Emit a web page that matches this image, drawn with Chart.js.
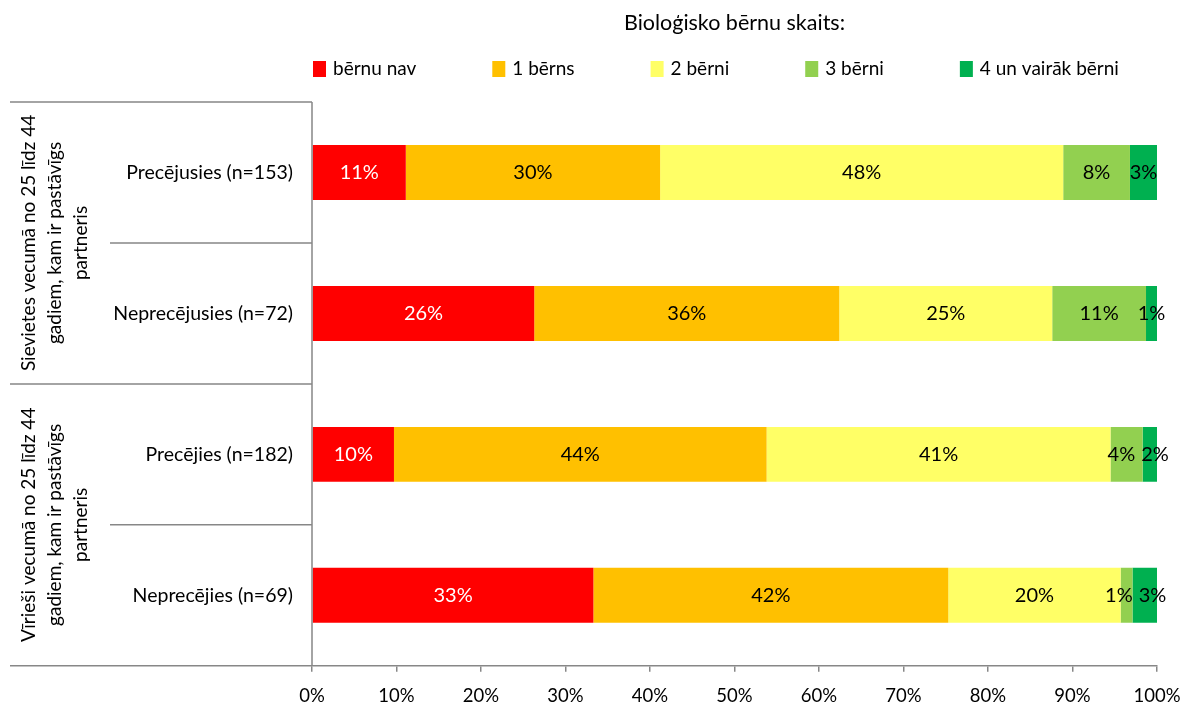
<!DOCTYPE html>
<html>
<head>
<meta charset="utf-8">
<script src="https://cdn.jsdelivr.net/npm/chart.js@4.4.0/dist/chart.umd.min.js"></script>
<style>
  html, body { margin: 0; padding: 0; background: #fff; }
  #wrap { width: 1184px; height: 702px; position: relative; }
</style>
</head>
<body>
<div id="wrap"><canvas id="chart"></canvas></div>
<script>
const chartTitle = 'Bioloģisko bērnu skaits:';
const categories = ['Precējusies (n=153)', 'Neprecējusies (n=72)', 'Precējies (n=182)', 'Neprecējies (n=69)'];
const groupLabels = [
  ['Sievietes vecumā no 25 līdz 44', 'gadiem, kam ir pastāvīgs', 'partneris'],
  ['Vīrieši vecumā no 25 līdz 44', 'gadiem, kam ir pastāvīgs', 'partneris']
];
const seriesNames = ['bērnu nav', '1 bērns', '2 bērni', '3 bērni', '4 un vairāk bērni'];
const seriesColors = ['#FF0000', '#FFC000', '#FFFF66', '#92D050', '#00B050'];
const labelColors = ['#ffffff', '#000000', '#000000', '#000000', '#000000'];

const noChildren    = [11.1, 26.3,  9.7, 33.3];
const oneChild      = [30.1, 36.1, 44.1, 42.0];
const twoChildren   = [47.7, 25.2, 40.7, 20.4];
const threeChildren = [ 7.9, 11.1,  3.8,  1.4];
const fourPlus      = [ 3.2,  1.3,  1.7,  2.9];
const seriesValues = [noChildren, oneChild, twoChildren, threeChildren, fourPlus];

const FONT = 'Lato, "Open Sans", sans-serif';
const LINE = '#878787';

const decor = {
  id: 'decor',
  afterDraw(chart) {
    const ctx = chart.ctx;
    const area = chart.chartArea;
    const y = chart.scales.y;
    const band = (area.bottom - area.top) / categories.length;
    ctx.save();
    ctx.textBaseline = 'middle';

    // title
    ctx.font = '21.5px ' + FONT;
    ctx.fillStyle = '#000';
    ctx.textAlign = 'center';
    ctx.fillText(chartTitle, (area.left + area.right) / 2, area.top - 79);

    // legend
    ctx.font = '19px ' + FONT;
    let lx = area.left + 1;
    const ly = area.top - 33;
    ctx.textAlign = 'left';
    chart.data.datasets.forEach(ds => {
      ctx.fillStyle = ds.backgroundColor;
      ctx.fillRect(lx, ly - 8, 13, 16);
      ctx.fillStyle = '#000';
      ctx.fillText(ds.label, lx + 20, ly);
      lx += 20 + ctx.measureText(ds.label).width + 76;
    });

    // left frame
    ctx.strokeStyle = LINE;
    ctx.lineWidth = 1.5;
    ctx.beginPath();
    ctx.moveTo(area.left, area.top);
    ctx.lineTo(area.left, area.bottom);
    for (let i = 0; i <= categories.length; i++) {
      const yy = area.top + band * i;
      ctx.moveTo(i % 2 === 0 ? 10 : 110, yy);
      ctx.lineTo(area.left, yy);
    }
    ctx.stroke();

    // category labels
    ctx.font = '19.5px ' + FONT;
    ctx.fillStyle = '#000';
    ctx.textAlign = 'right';
    categories.forEach((c, i) => {
      ctx.fillText(c, area.left - 19, y.getPixelForValue(i));
    });

    // group labels (rotated)
    ctx.font = '19px ' + FONT;
    ctx.textAlign = 'center';
    groupLabels.forEach((lines, g) => {
      const cy = area.top + band * (2 * g + 1);
      ctx.save();
      ctx.translate(55, cy);
      ctx.rotate(-Math.PI / 2);
      lines.forEach((t, k) => {
        ctx.fillText(t, 0, (k - 1) * 26);
      });
      ctx.restore();
    });

    // value labels, nudged apart where narrow segments collide
    ctx.font = '20px ' + FONT;
    categories.forEach((c, i) => {
      const items = chart.data.datasets.map((ds, di) => {
        const bar = chart.getDatasetMeta(di).data[i];
        const text = Math.round(ds.data[i]) + '%';
        return { text, x: (bar.x + bar.base) / 2, y: bar.y, w: ctx.measureText(text).width, color: labelColors[di] };
      });
      for (let k = 1; k < items.length; k++) {
        const a = items[k - 1], b = items[k];
        const need = (a.w + b.w) / 2 + 6 - (b.x - a.x);
        if (need > 0) { a.x -= need / 2; b.x += need / 2; }
      }
      items.forEach(it => {
        ctx.fillStyle = it.color;
        ctx.fillText(it.text, it.x, it.y);
      });
    });
    ctx.restore();
  }
};

new Chart(document.getElementById('chart'), {
  type: 'bar',
  data: {
    labels: categories,
    datasets: seriesNames.map((name, i) => ({
      label: name,
      data: seriesValues[i],
      backgroundColor: seriesColors[i],
      borderWidth: 0,
      barPercentage: 0.39,
      categoryPercentage: 1
    }))
  },
  options: {
    indexAxis: 'y',
    responsive: true,
    maintainAspectRatio: false,
    animation: false,
    layout: { padding: { top: 102, left: 312, right: 0, bottom: -18 } },
    plugins: {
      legend: { display: false },
      title: { display: false },
      tooltip: { enabled: false }
    },
    scales: {
      x: {
        stacked: true,
        min: 0,
        max: 100,
        afterFit: scale => { scale.paddingRight = 27; },
        ticks: {
          stepSize: 10,
          padding: 13,
          color: '#000',
          font: { family: FONT, size: 18.5 },
          callback: v => v + '%'
        },
        grid: {
          drawOnChartArea: false,
          drawTicks: true,
          tickLength: 6,
          color: LINE,
          lineWidth: 1.5
        },
        border: { color: LINE, width: 1.5 }
      },
      y: {
        stacked: true,
        display: false
      }
    }
  },
  plugins: [decor]
});
</script>
</body>
</html>
